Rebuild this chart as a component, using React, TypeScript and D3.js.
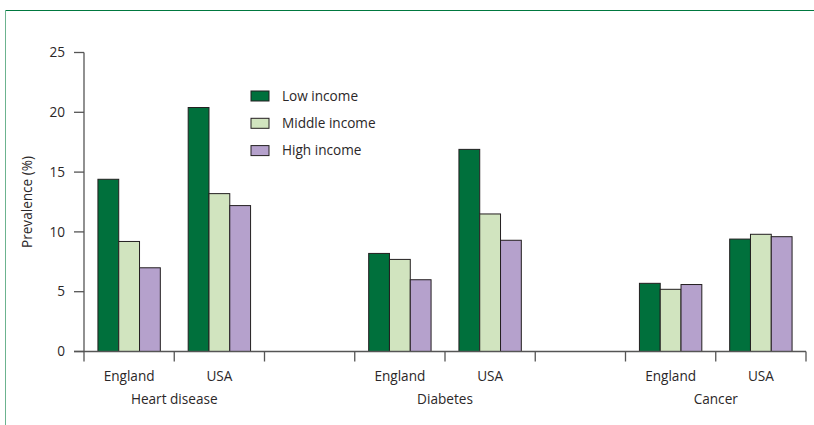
import React from "react";
import * as d3 from "d3";

const diseases = ["Heart disease", "Diabetes", "Cancer"];
const countries = ["England", "USA"];
const series = ["Low income", "Middle income", "High income"];
// values ordered: Heart England, Heart USA, Diabetes England, Diabetes USA, Cancer England, Cancer USA
const lowIncome = [14.4, 20.4, 8.2, 16.9, 5.7, 9.4];
const middleIncome = [9.2, 13.2, 7.7, 11.5, 5.2, 9.8];
const highIncome = [7.0, 12.2, 6.0, 9.3, 5.6, 9.6];
const yTicks = [0, 5, 10, 15, 20, 25];
const colors = ["#00703c", "#d1e4bf", "#b5a1cc"];

const W = 814;
const H = 425;
const FONT = "'Open Sans', sans-serif";
const FS = 13.6;
const TEXT = "#2b2728";
const AXIS = "#555555";

export default function App() {
  const values = [lowIncome, middleIncome, highIncome];
  const slots: string[] = [];
  diseases.forEach((d, i) => {
    countries.forEach((c) => slots.push(`${d}|${c}`));
    if (i < diseases.length - 1) slots.push(`gap${i}`);
  });
  const x = d3.scaleBand<string>().domain(slots).range([84, 806]).padding(0);
  const inner = d3
    .scaleBand<string>()
    .domain(series)
    .range([0, x.bandwidth()])
    .paddingInner(0)
    .paddingOuter(0.67);
  const y = d3.scaleLinear().domain([0, 25]).range([351.5, 52.5]);
  const bw = x.bandwidth();
  const tickXs = d3.range(slots.length + 1).map((i) => 84 + i * bw);

  return (
    <svg
      width={W}
      height={H}
      style={{ position: "absolute", left: 0, top: 0, background: "#fff" }}
      fontFamily={FONT}
    >
      <line x1={5} x2={W} y1={10.5} y2={10.5} stroke="#00783f" strokeWidth={1} />
      <line x1={5.5} x2={5.5} y1={10} y2={H} stroke="#6cb38f" strokeWidth={1} />

      {/* bars */}
      {diseases.map((d, di) =>
        countries.map((c, ci) => {
          const idx = di * 2 + ci;
          const x0 = x(`${d}|${c}`)!;
          return series.map((s, si) => {
            const v = values[si][idx];
            return (
              <rect
                key={`${d}-${c}-${s}`}
                x={x0 + inner(s)!}
                y={y(v)}
                width={inner.bandwidth()}
                height={y(0) - y(v)}
                fill={colors[si]}
                stroke="#231f20"
                strokeWidth={1}
              />
            );
          });
        })
      )}

      {/* y axis */}
      <line x1={84} x2={84} y1={y(25)} y2={y(0)} stroke={AXIS} strokeWidth={1.3} />
      {yTicks.map((t) => (
        <g key={t}>
          <line x1={74} x2={84} y1={y(t)} y2={y(t)} stroke={AXIS} strokeWidth={1.3} />
          <text
            x={65}
            y={y(t)}
            dy="0.35em"
            textAnchor="end"
            fontSize={FS}
            fill={TEXT}
          >
            {t}
          </text>
        </g>
      ))}
      <text
        transform={`translate(27,${(y(0) + y(25)) / 2}) rotate(-90)`}
        textAnchor="middle"
        dy="0.35em"
        fontSize={FS}
        fill={TEXT}
      >
        Prevalence (%)
      </text>

      {/* x axis */}
      <line x1={74} x2={tickXs[tickXs.length - 1]} y1={y(0)} y2={y(0)} stroke={AXIS} strokeWidth={1.3} />
      {tickXs.map((tx, i) => (
        <line key={i} x1={tx} x2={tx} y1={y(0)} y2={y(0) + 10} stroke={AXIS} strokeWidth={1.3} />
      ))}
      {diseases.map((d) =>
        countries.map((c) => (
          <text
            key={`${d}-${c}-lab`}
            x={x(`${d}|${c}`)! + bw / 2}
            y={376}
            dy="0.35em"
            textAnchor="middle"
            fontSize={FS}
            fill={TEXT}
          >
            {c}
          </text>
        ))
      )}
      {diseases.map((d) => (
        <text
          key={`${d}-cat`}
          x={x(`${d}|${countries[1]}`)!}
          y={399}
          dy="0.35em"
          textAnchor="middle"
          fontSize={FS}
          fill={TEXT}
        >
          {d}
        </text>
      ))}

      {/* legend */}
      {series.map((s, i) => (
        <g key={s} transform={`translate(251,${91 + i * 27.3})`}>
          <rect width={18} height={10} fill={colors[i]} stroke="#231f20" strokeWidth={1} />
          <text x={31} y={5} dy="0.35em" fontSize={FS} fill={TEXT}>
            {s}
          </text>
        </g>
      ))}
    </svg>
  );
}
